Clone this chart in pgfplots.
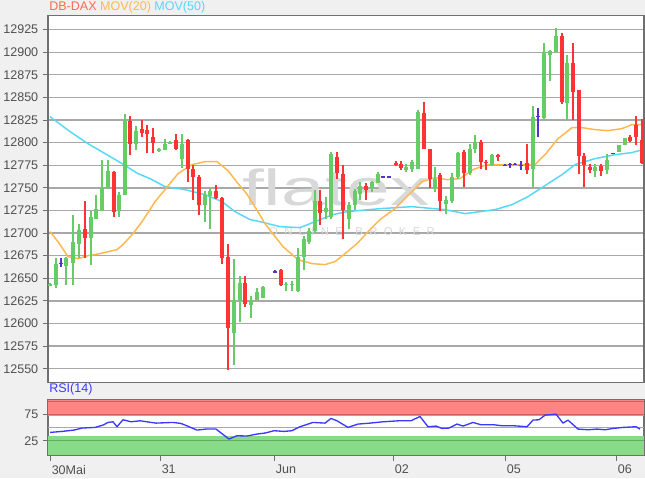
\documentclass[border=0pt]{standalone}
\usepackage{pgfplots}
\pgfplotsset{compat=1.18}
\usepackage{pgfplotstable}
\usepackage{fontspec}
\setmainfont{Liberation Sans}
\definecolor{bgc}{HTML}{F0F0F0}
\definecolor{cg}{HTML}{66CC66}
\definecolor{cr}{HTML}{FF3333}
\definecolor{cd}{HTML}{5533CC}
\definecolor{gridc}{HTML}{A8A8A8}
\definecolor{ma20}{HTML}{FFB84D}
\definecolor{ma50}{HTML}{55D8F5}
\definecolor{rsic}{HTML}{3A3AFF}
\definecolor{framec}{HTML}{707070}
\definecolor{lab}{HTML}{505050}
\definecolor{ttl}{HTML}{FF6A50}
\definecolor{rsired}{HTML}{FF8585}
\definecolor{rsiredl}{HTML}{C86060}
\definecolor{rsigreen}{HTML}{88DA88}
\definecolor{rsigreenl}{HTML}{5CAF5C}
\definecolor{wm}{HTML}{D8D8D8}

\pgfplotstableread{
x o h l c t
50 12642 12645 12641 12644 1
56 12643 12672 12639 12666 1
61 12666 12672 12662 12666 0
66 12664 12674 12643 12672 1
73 12667 12720 12643 12690 1
79 12688 12710 12672 12703 1
85 12705 12735 12672 12694 -1
91 12694 12724 12665 12718 1
96 12716 12742 12716 12727 1
102 12724 12781 12724 12750 1
108 12750 12781 12750 12769 1
114 12767 12769 12718 12723 -1
119 12724 12745 12718 12742 1
125 12742 12832 12742 12824 1
130 12824 12829 12786 12798 -1
136 12798 12818 12792 12813 1
142 12815 12825 12806 12811 -1
147 12814 12820 12788 12810 -1
153 12806 12816 12788 12800 -1
159 12791 12794 12790 12793 1
165 12792 12804 12792 12799 1
170 12799 12802 12798 12801 1
176 12803 12810 12792 12793 -1
182 12782 12810 12772 12799 1
188 12803 12804 12757 12771 -1
193 12771 12775 12737 12762 -1
199 12762 12764 12720 12731 -1
205 12731 12746 12712 12742 1
210 12741 12749 12705 12746 1
216 12746 12753 12738 12739 -1
222 12739 12740 12666 12672 -1
228 12673 12688 12548 12595 -1
234 12589 12671 12554 12626 1
240 12626 12653 12602 12645 1
245 12645 12653 12618 12621 -1
251 12620 12630 12606 12626 1
257 12626 12639 12626 12635 1
263 12628 12642 12628 12640 1
275 12657 12659 12656 12657 0
281 12659 12660 12642 12643 -1
286 12643 12646 12636 12644 1
292 12643 12647 12636 12644 1
298 12636 12683 12635 12673 1
304 12673 12697 12659 12693 1
309 12690 12706 12688 12702 1
315 12702 12748 12700 12736 1
320 12735 12748 12709 12722 -1
326 12723 12740 12715 12728 1
331 12718 12790 12715 12787 1
337 12784 12790 12760 12766 -1
343 12765 12775 12693 12726 -1
349 12715 12734 12704 12731 1
355 12731 12749 12726 12746 1
360 12743 12756 12737 12752 1
366 12752 12755 12737 12748 -1
372 12750 12758 12745 12757 1
378 12755 12767 12755 12765 1
383 12762 12763 12761 12762 0
389 12762 12763 12761 12762 0
396 12778 12780 12774 12775 -1
401 12776 12780 12770 12772 -1
406 12770 12776 12768 12773 1
412 12771 12781 12768 12779 1
418 12771 12836 12771 12834 1
424 12833 12845 12793 12793 -1
430 12793 12793 12750 12760 -1
435 12750 12773 12745 12760 1
440 12764 12766 12724 12735 -1
446 12732 12741 12721 12737 1
452 12736 12766 12733 12762 1
458 12762 12790 12760 12788 1
464 12790 12792 12751 12766 -1
470 12766 12798 12764 12793 1
475 12793 12809 12788 12801 1
481 12801 12803 12771 12779 -1
486 12779 12781 12770 12777 -1
492 12775 12787 12774 12786 1
498 12786 12787 12780 12784 -1
505 12775 12776 12774 12775 0
510 12776 12778 12772 12776 0
515 12776 12777 12775 12776 0
521 12775 12780 12770 12775 0
527 12777 12798 12765 12770 -1
533 12771 12840 12751 12828 1
538 12829 12838 12806 12829 0
544 12827 12910 12826 12900 1
550 12897 12903 12868 12901 1
556 12900 12927 12900 12918 1
562 12918 12921 12843 12845 -1
567 12844 12897 12825 12888 1
573 12888 12910 12825 12856 -1
579 12858 12858 12765 12785 -1
584 12785 12788 12751 12775 -1
590 12773 12776 12766 12770 -1
595 12769 12776 12762 12773 1
601 12774 12776 12763 12769 -1
607 12770 12787 12765 12781 1
613 12788 12789 12787 12788 0
619 12790 12797 12790 12797 1
625 12797 12805 12797 12805 1
630 12806 12808 12801 12802 -1
636 12819 12830 12797 12806 -1
642 12803 12826 12776 12777 -1
}\candles

\pgfplotstableread{
x v
50 40.6
62 42.5
74 45
82 48.8
95 50
103 54.4
108 59.4
113 60.6
117 51.3
123 64.4
131 60.6
140 62.5
156 58.1
173 59.4
181 57.5
189 51.3
197 45
206 46.9
216 46.9
229 28.1
237 34.4
247 33.8
257 37.5
265 39.4
274 43.8
284 42.5
292 43.8
300 51.3
313 59.4
325 58.1
331 66.9
337 62.5
348 50
358 56.3
370 58.1
383 60.6
399 62.5
411 62.5
420 70.6
428 51.3
436 52.5
442 48.1
449 48.8
457 56.3
463 52.5
473 59.4
481 55
494 55
502 53.1
514 53.1
527 51.3
533 63.8
539 64.4
545 73.1
556 75
563 58.1
568 63.8
578 46.9
588 45.6
597 46.9
605 45.6
613 48.1
623 50
636 51.3
640 46.9
}\rsidata

\begin{document}
\fontsize{9.4}{11}\selectfont
\begin{tikzpicture}[x=0.75pt,y=0.75pt]
\useasboundingbox (0,0) rectangle (645,478);
\fill[bgc] (0,0) rectangle (645,478);

\begin{axis}[
  at={(48,105.5)}, anchor=south west,
  scale only axis, width=447pt, height=275.25pt,
  xmin=48, xmax=644, ymin=12534.6, ymax=12940.5,
  axis background/.style={fill=white},
  axis line style={framec, line width=0.8pt},
  xtick=\empty,
  ytick={12550,12575,...,12925},
  scaled y ticks=false,
  ymajorgrids, grid style={gridc, line width=1pt},
  tick pos=left, tick align=outside, major tick length=4pt,
  tick style={framec, line width=0.6pt},
  yticklabel style={text=lab, font=\fontsize{9.4}{11}\selectfont,
    /pgf/number format/fixed, /pgf/number format/precision=0,
    /pgf/number format/1000 sep={}, /pgf/number format/assume math mode=true},
]
\node[text=wm, font=\fontsize{38}{40}\selectfont, xscale=1.55] at (axis cs:336,12750) {flatex};
\node[text=wm, font=\fontsize{8.5}{10}\selectfont] at (axis cs:352,12702) {O\ \ N\ \ L\ \ I\ \ N\ \ E\ \ \ \ B\ \ R\ \ O\ \ K\ \ E\ \ R};

\addplot[ma50, mark=none, line width=1.1pt, line join=round] coordinates {
(50,12828.8) (70,12812.2) (88,12798.9) (105,12787.9) (122,12776.8) (138,12765.7) (150,12760.2) (165,12751.4) (185,12748) (205,12742.5) (222,12734.8) (235,12723.7) (250,12714.9) (260,12712.6) (280,12707.1) (300,12706) (310,12710.4) (333,12720.4) (347,12723.7) (380,12727) (412,12729.2) (445,12725.9) (465,12721.5) (495,12725.9) (512,12731.4) (528,12740.3) (545,12752.5) (562,12764.6) (575,12775.7) (595,12782.3) (615,12786.7) (632,12789) (643,12792.3)};
\addplot[ma20, mark=none, line width=1.1pt, line join=round] coordinates {
(50,12701.6) (58,12690.5) (68,12673.9) (78,12671.7) (88,12675) (100,12677.3) (117,12681.7) (123,12687.2) (133,12699.4) (142,12712.6) (150,12725.9) (155,12734.8) (165,12748) (178,12765.7) (192,12775.7) (205,12779) (217,12779) (228,12769) (238,12754.7) (245,12745.8) (250,12738.1) (265,12710.4) (283,12685) (298,12670.6) (312,12666.2) (325,12665.1) (335,12668.4) (345,12677.3) (357,12688.3) (370,12703.8) (380,12714.9) (395,12727) (412,12745.8) (422,12756.9) (435,12761.3) (447,12759.1) (460,12760.2) (473,12770.2) (487,12775.7) (500,12775.7) (535,12775.7) (545,12786.7) (558,12804.4) (572,12816.6) (582,12816.6) (595,12814.4) (608,12813.3) (622,12815.5) (632,12819.9) (642,12819.9)};

% green candles
\addplot[cg, mark=none, line width=0.8pt, forget plot,
  restrict expr to domain={\thisrow{t}}{0.5:1.5},
  quiver={u=0, v=\thisrow{h}-\thisrow{l}}]
  table[x=x, y=l] {\candles};
\addplot[cg, mark=none, line width=3.3pt, forget plot,
  restrict expr to domain={\thisrow{t}}{0.5:1.5},
  quiver={u=0, v=\thisrow{c}-\thisrow{o}}]
  table[x=x, y=o] {\candles};
% red candles
\addplot[cr, mark=none, line width=0.8pt, forget plot,
  restrict expr to domain={\thisrow{t}}{-1.5:-0.5},
  quiver={u=0, v=\thisrow{h}-\thisrow{l}}]
  table[x=x, y=l] {\candles};
\addplot[cr, mark=none, line width=3.3pt, forget plot,
  restrict expr to domain={\thisrow{t}}{-1.5:-0.5},
  quiver={u=0, v=\thisrow{o}-\thisrow{c}}]
  table[x=x, y=c] {\candles};
% doji
\addplot[cd, mark=none, line width=0.8pt, forget plot,
  restrict expr to domain={\thisrow{t}}{-0.5:0.5},
  quiver={u=0, v=\thisrow{h}-\thisrow{l}}]
  table[x=x, y=l] {\candles};
\addplot[cd, mark=none, line width=1pt, forget plot,
  restrict expr to domain={\thisrow{t}}{-0.5:0.5},
  quiver={u=4.4, v=0}]
  table[x expr=\thisrow{x}-2.2, y=c] {\candles};
\end{axis}

\begin{axis}[
  at={(48,42.5)}, anchor=south west,
  scale only axis, width=447pt, height=41.6pt,
  xmin=48, xmax=644, ymin=-2.6, ymax=101.7,
  axis background/.style={fill=white},
  axis line style={framec, line width=0.8pt},
  ytick={25,75},
  xtick={50,160,274,393,505,616},
  xticklabels={30Mai,31,Jun,02,05,06},
  tick pos=left, tick align=outside, major tick length=4pt,
  tick style={framec, line width=0.6pt},
  yticklabel style={text=lab, font=\fontsize{9.4}{11}\selectfont, /pgf/number format/assume math mode=true},
  xticklabel style={text=lab, font=\fontsize{9.4}{11}\selectfont, anchor=north west, xshift=-2pt},
]
\fill[rsired] (axis cs:48,72) rectangle (axis cs:644,101.7);
\draw[rsiredl, line width=0.9pt] (axis cs:48,98) -- (axis cs:644,98);
\draw[rsiredl, line width=0.9pt] (axis cs:48,75) -- (axis cs:644,75);
\fill[rsigreen] (axis cs:48,-2.6) rectangle (axis cs:644,34);
\draw[rsigreenl, line width=0.9pt] (axis cs:48,25) -- (axis cs:644,25);
\draw[gridc, line width=0.9pt] (axis cs:48,50) -- (axis cs:644,50);
\addplot[rsic, mark=none, line width=1pt, line join=round] table[x=x, y=v] {\rsidata};
\end{axis}

\node[anchor=west, inner sep=0pt] at (49,471) {\textcolor{ttl}{DB-DAX} \textcolor{ma20}{MOV(20)} \textcolor{ma50}{MOV(50)}};
\node[anchor=west, inner sep=0pt] at (49,89) {\textcolor{rsic}{RSI(14)}};
\end{tikzpicture}
\end{document}
